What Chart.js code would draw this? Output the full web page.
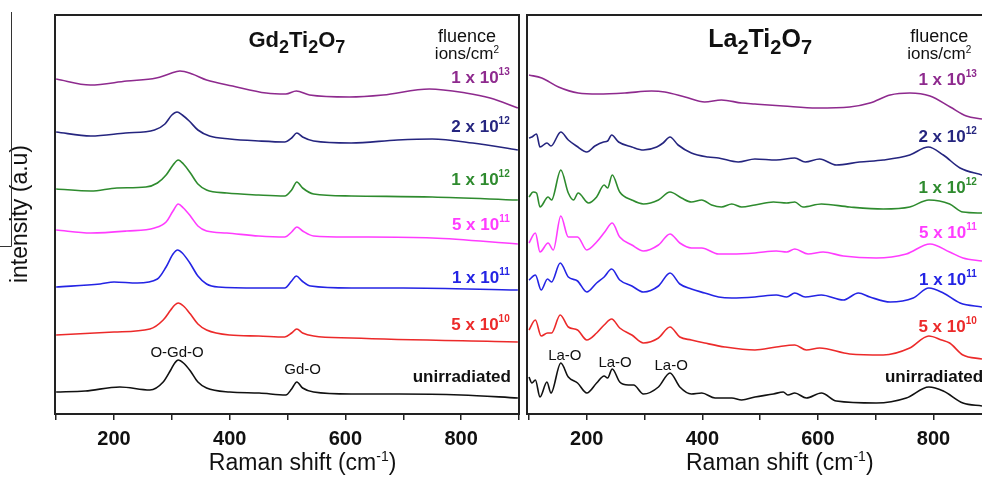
<!DOCTYPE html>
<html>
<head>
<meta charset="utf-8">
<script src="https://cdn.jsdelivr.net/npm/chart.js@4.4.0/dist/chart.umd.min.js"></script>
<style>
  body { margin: 0; background: #fff; }
  #wrap { position: relative; width: 982px; height: 477px; overflow: hidden; }
  canvas { position: absolute; top: 0; }
</style>
</head>
<body>
<div id="wrap">
  <canvas id="gd" width="521" height="477" style="left:0"></canvas>
  <canvas id="la" width="461" height="477" style="left:521px"></canvas>
</div>
<script>
// fluence series, top to bottom
var fluenceBase = ['1 x 10', '2 x 10', '1 x 10', '5 x 10', '1 x 10', '5 x 10', 'unirradiated'];
var fluenceExp  = ['13', '12', '12', '11', '11', '10', ''];
var lineColors  = ['#8e2a8e', '#25257f', '#2e8b2e', '#ff3cff', '#2424e4', '#ec2a2a', '#111111'];
var xTicks = [100, 200, 300, 400, 500, 600, 700, 800, 900];

// Gd2Ti2O7 spectra (Raman shift cm-1, intensity a.u. incl. offset)
var gdX13 = [100,159,222,273,295,314,335,360,405,463,497,515,538,607,665,745,808,850,898];
var gdY13 = [335,329,333,336,340,343,340,334,328,321,320,323,319,317,319,325,321,316,306];
var gdX2e12 = [100,160,220,270,288,300,309,318,330,345,365,400,450,495,507,516,526,545,610,690,750,820,898];
var gdY2e12 = [282,278,281,284,290,299,302,299,293,284,278,275,273,272,276,281,277,273,271,274,275,271,264];
var gdX1e12 = [100,160,205,255,275,290,302,311,320,332,345,360,395,450,495,507,516,526,545,610,750,898];
var gdY1e12 = [225,223,226,227,231,239,249,254,250,241,230,224,221,219,218,224,232,226,220,218,217,214];
var gdX5e11 = [100,160,222,270,290,302,311,320,332,345,360,395,450,495,507,516,526,545,610,750,898];
var gdY5e11 = [184,181,183,186,192,203,210,206,198,188,183,181,178,177,182,187,183,178,177,176,170];
var gdX1e11 = [100,176,200,240,275,290,302,310,318,330,345,360,380,450,495,507,515,525,540,610,700,898];
var gdY1e11 = [127,130,132,131,135,147,160,164,161,152,138,130,127,126,126,133,138,133,128,126,126,124];
var gdX5e10 = [100,200,262,285,298,305,311,320,332,345,360,400,450,495,507,516,526,545,610,898];
var gdY5e10 = [79,82,85,94,104,109,111,108,100,90,84,79,78,77,81,85,81,78,76,72];
var gdX0 = [100,150,210,262,285,298,305,311,320,332,345,360,400,451,497,507,516,526,545,610,693,800,898];
var gdY0 = [22,23,27,24,32,44,51,54,51,43,32,26,22,21,19,25,32,26,22,20,20,19,16];

// La2Ti2O7 spectra
var laX13 = [100,122,151,185,220,266,312,335,370,404,433,468,491,540,598,655,690,725,759,794,829,857,884];
var laY13 = [339,336,327,321,320,321,323,322,317,312,314,311,310,308,306,307,311,319,321,318,307,298,295];
var laX2e12 = [100,105,113,119,131,138,155,168,182,200,214,229,236,243,255,278,298,321,332,344,358,381,410,428,462,491,528,560,578,603,632,672,713,759,791,817,846,884];
var laY2e12 = [276,277,280,267,271,268,282,274,268,262,268,272,273,279,272,267,264,267,271,277,269,261,257,256,252,255,254,256,252,255,249,252,254,259,267,259,246,239];
var laX1e12 = [100,107,113,119,133,139,155,168,177,185,203,217,230,236,244,257,278,298,324,344,364,381,399,416,433,451,468,491,523,546,560,574,606,655,713,759,792,828,851,884];
var laY1e12 = [217,222,221,207,217,214,244,221,214,221,211,217,229,226,239,222,214,210,214,222,216,212,214,209,207,210,207,209,212,211,212,207,210,207,205,207,214,210,202,201];
var laX5e11 = [100,111,119,133,142,155,168,184,200,217,231,244,257,278,298,324,344,361,381,399,428,451,491,528,546,560,583,609,644,701,753,794,828,851,884];
var laY5e11 = [171,181,162,171,164,198,177,177,164,172,182,191,177,169,163,169,180,171,166,166,160,160,161,163,162,165,160,162,158,156,160,170,162,156,153];
var laX1e11 = [100,111,121,132,139,154,168,184,200,217,230,243,257,278,298,324,344,361,381,404,428,451,491,528,546,560,578,606,644,670,690,725,765,792,817,846,884];
var laY1e11 = [134,139,124,135,132,151,137,133,122,131,137,145,134,128,122,128,141,130,125,121,117,116,117,119,117,121,117,119,114,121,117,112,116,126,121,111,107];
var laX5e10 = [100,111,121,132,139,154,168,184,200,217,230,243,257,278,298,324,344,361,381,404,439,491,528,560,580,603,655,713,759,792,814,828,851,884];
var laY5e10 = [84,94,78,81,81,99,87,84,74,81,89,95,86,79,71,76,87,77,74,71,67,64,67,69,64,66,60,59,66,78,74,71,59,55];
var laX0 = [100,105,111,119,131,138,155,168,184,200,217,230,236,244,257,272,281,298,324,344,361,381,399,422,451,468,491,523,540,548,560,580,606,632,701,753,792,817,851,884];
var laY0 = [37,31,34,17,32,21,51,37,31,21,31,38,36,45,32,29,29,20,27,41,27,20,21,16,16,14,17,20,22,19,21,16,21,13,11,16,27,23,11,8];

var gdXs = [gdX13, gdX2e12, gdX1e12, gdX5e11, gdX1e11, gdX5e10, gdX0];
var gdYs = [gdY13, gdY2e12, gdY1e12, gdY5e11, gdY1e11, gdY5e10, gdY0];
var laXs = [laX13, laX2e12, laX1e12, laX5e11, laX1e11, laX5e10, laX0];
var laYs = [laY13, laY2e12, laY1e12, laY5e11, laY1e11, laY5e10, laY0];

// label baselines (data units)
var gdLabelY = [331, 282, 229, 184, 131, 84, 32];
var laLabelY = [329, 272, 221, 176, 129, 82, 32];

var FONT = '"Liberation Sans", Arial, Helvetica, sans-serif';

// parts: [text, '' | 'sub' | 'sup'], y is the text baseline
function drawRich(ctx, parts, x, y, align, size, weight, color, small, shift) {
  small = small || 0.62;
  ctx.save();
  ctx.fillStyle = color;
  ctx.textBaseline = 'alphabetic';
  ctx.textAlign = 'left';
  var fontFor = function (m) { return weight + ' ' + (m ? Math.round(size * small) : size) + 'px ' + FONT; };
  var w = 0;
  parts.forEach(function (p) { ctx.font = fontFor(p[1]); w += ctx.measureText(p[0]).width; });
  var cx = align === 'right' ? x - w : (align === 'center' ? x - w / 2 : x);
  parts.forEach(function (p) {
    ctx.font = fontFor(p[1]);
    var dy = p[1] === 'sup' ? -(shift || size * 0.47) : (p[1] === 'sub' ? (shift || size * 0.28) : 0);
    ctx.fillText(p[0], cx, y + dy);
    cx += ctx.measureText(p[0]).width;
  });
  ctx.restore();
}

function makeData(xs, ys) {
  return {
    datasets: xs.map(function (xa, i) {
      return {
        data: xa.map(function (x, j) { return { x: x, y: ys[i][j] }; }),
        borderColor: lineColors[i],
        borderWidth: 1.6,
        pointRadius: 0,
        fill: false,
        cubicInterpolationMode: 'monotone'
      };
    })
  };
}

function makeOptions(xmin, xmax, yWidth, rightPad) {
  return {
    responsive: false,
    animation: false,
    devicePixelRatio: 1,
    layout: { padding: { top: 15, right: rightPad, left: 0, bottom: 0 } },
    plugins: { legend: { display: false }, tooltip: { enabled: false } },
    scales: {
      x: {
        type: 'linear', min: xmin, max: xmax,
        afterFit: function (s) { s.height = 63; s.paddingLeft = 0; s.paddingRight = 0; },
        afterBuildTicks: function (s) {
          s.ticks = xTicks.filter(function (v) { return v >= s.min && v <= s.max; })
                          .map(function (v) { return { value: v }; });
        },
        border: { display: false },
        grid: { drawOnChartArea: false, tickLength: 6, color: '#222', lineWidth: 1.5 },
        ticks: {
          autoSkip: false, maxRotation: 0, padding: 7,
          color: '#111', font: { family: FONT, size: 20, weight: 'bold' },
          callback: function (v) { return v % 200 === 0 ? v : ''; }
        }
      },
      y: {
        min: 0, max: 399,
        afterFit: function (s) { s.width = yWidth; },
        border: { display: false },
        grid: { display: false },
        ticks: { display: false }
      }
    }
  };
}

function panelPlugin(title, labelY, labelX, peaks, axisTitleX, leftPanel) {
  return {
    id: 'panel',
    afterDraw: function (chart) {
      var ctx = chart.ctx, a = chart.chartArea;
      var sx = chart.scales.x, sy = chart.scales.y;
      ctx.save();
      ctx.strokeStyle = '#222';
      ctx.lineWidth = 2;
      ctx.beginPath();
      if (leftPanel) {
        ctx.rect(a.left, a.top, a.right - a.left, a.bottom - a.top);
      } else {
        ctx.moveTo(a.right + 2, a.top); ctx.lineTo(a.left, a.top);
        ctx.lineTo(a.left, a.bottom); ctx.lineTo(a.right + 2, a.bottom);
      }
      ctx.stroke();
      ctx.restore();

      drawRich(ctx, title.parts, sx.getPixelForValue(title.cx), sy.getPixelForValue(367), 'center', title.size, 'bold', '#111', 0.8, title.drop);
      drawRich(ctx, [['fluence', '']], sx.getPixelForValue(810), sy.getPixelForValue(372.5), 'center', 18, 'normal', '#111');
      drawRich(ctx, [['ions/cm', ''], ['2', 'sup']], sx.getPixelForValue(810), sy.getPixelForValue(355), 'center', 17, 'normal', '#111', 0.6, 6);

      for (var i = 0; i < fluenceBase.length; i++) {
        var parts = [[fluenceBase[i], '']];
        if (fluenceExp[i]) parts.push([fluenceExp[i], 'sup']);
        var last = i === fluenceBase.length - 1;
        drawRich(ctx, parts, sx.getPixelForValue(last ? labelX.last : labelX.all), sy.getPixelForValue(labelY[i]),
                 'right', 17, 'bold', last ? '#111' : lineColors[i], 0.6, 8);
      }
      peaks.forEach(function (p) {
        drawRich(ctx, [[p.t, '']], sx.getPixelForValue(p.x), sy.getPixelForValue(p.y), 'center', 15, 'normal', '#111');
      });

      drawRich(ctx, [['Raman shift (cm', ''], ['-1', 'sup'], [')', '']], sx.getPixelForValue(axisTitleX), 470, 'center', 23, 'normal', '#111', 0.6, 9);

      if (leftPanel) {
        ctx.save();
        ctx.translate(21, 214);
        ctx.rotate(-Math.PI / 2);
        ctx.fillStyle = '#111';
        ctx.font = 'normal 23px ' + FONT;
        ctx.textAlign = 'center';
        ctx.textBaseline = 'middle';
        ctx.fillText('intensity (a.u)', 0, 0);
        ctx.restore();
        ctx.save();
        ctx.strokeStyle = '#333';
        ctx.lineWidth = 1;
        ctx.beginPath();
        ctx.moveTo(11.5, 12); ctx.lineTo(11.5, 246.5); ctx.lineTo(0, 246.5);
        ctx.stroke();
        ctx.restore();
      }
    }
  };
}

var gdTitle = { cx: 516, size: 22, drop: 6,
  parts: [['Gd', ''], ['2', 'sub'], ['Ti', ''], ['2', 'sub'], ['O', ''], ['7', 'sub']] };
var laTitle = { cx: 500, size: 25, drop: 7,
  parts: [['La', ''], ['2', 'sub'], ['Ti', ''], ['2', 'sub'], ['O', ''], ['7', 'sub']] };

new Chart(document.getElementById('gd'), {
  type: 'line',
  data: makeData(gdXs, gdYs),
  options: makeOptions(98, 900, 55, 2),
  plugins: [panelPlugin(gdTitle, gdLabelY, { all: 884, last: 886 },
    [{ t: 'O-Gd-O', x: 309, y: 57 }, { t: 'Gd-O', x: 526, y: 40 }], 526, true)]
});

new Chart(document.getElementById('la'), {
  type: 'line',
  data: makeData(laXs, laYs),
  options: makeOptions(96.5, 884, 6, 0),
  plugins: [panelPlugin(laTitle, laLabelY, { all: 875, last: 886 },
    [{ t: 'La-O', x: 162, y: 54 }, { t: 'La-O', x: 249, y: 47 }, { t: 'La-O', x: 346, y: 44 }], 534, false)]
});
</script>
</body>
</html>
